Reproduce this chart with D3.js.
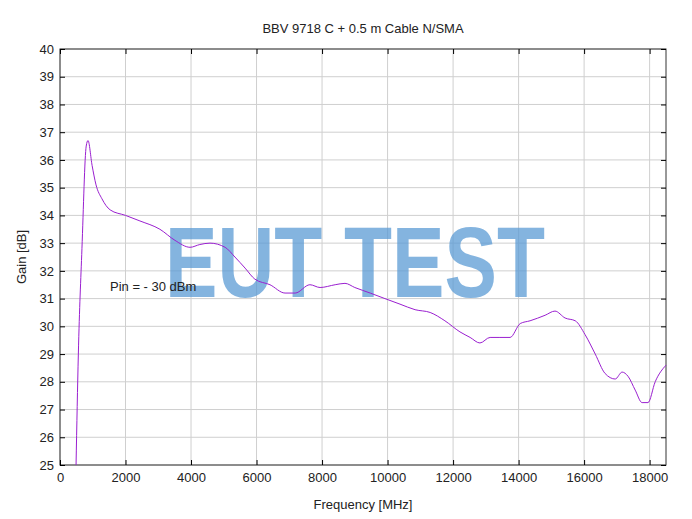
<!DOCTYPE html>
<html><head><meta charset="utf-8">
<script src="https://cdn.jsdelivr.net/npm/d3@7"></script>
<style>body{margin:0;background:#fff}svg{font-family:"Liberation Sans",Arial,sans-serif}</style>
</head><body><svg id="c" width="692" height="519"></svg>
<script>
const freq=[490,560,670,800,855,980,1100,1280,1530,2000,2440,3050,3510,3970,4270,4580,5040,5340,5650,5950,6410,6870,7180,7630,7940,8400,8700,9000,9470,9920,10380,10840,11300,11750,12210,12520,12820,13130,13430,13740,14050,14350,14810,15110,15420,15730,16030,16340,16640,16950,17160,17340,17560,17770,17950,18170,18500];
const gain=[25,29,32.8,36.5,36.7,35.8,35.1,34.6,34.2,34.0,33.8,33.5,33.1,32.85,32.95,33.0,32.85,32.5,32.1,31.7,31.5,31.2,31.2,31.5,31.4,31.5,31.55,31.4,31.2,31.0,30.8,30.6,30.5,30.2,29.8,29.6,29.4,29.6,29.6,29.6,30.1,30.2,30.4,30.55,30.3,30.2,29.7,29.0,28.3,28.1,28.35,28.2,27.7,27.25,27.25,28.0,28.6];
const xTicks=[0,2000,4000,6000,8000,10000,12000,14000,16000,18000];
const yTicks=d3.range(25,41);
const svg=d3.select("#c");
const L=60,R=666,T=49,B=465;
const x=d3.scaleLinear().domain([0,18500]).range([L,R]);
const y=d3.scaleLinear().domain([25,40]).range([B,T]);
const g=svg.append("g");
g.selectAll(".vx").data(xTicks).join("line").attr("x1",d=>x(d)).attr("x2",d=>x(d)).attr("y1",T).attr("y2",B).attr("stroke","#cfcfcf");
g.selectAll(".hy").data(yTicks).join("line").attr("y1",d=>y(d)).attr("y2",d=>y(d)).attr("x1",L).attr("x2",R).attr("stroke","#cfcfcf");
svg.append("rect").attr("x",L).attr("y",T).attr("width",R-L).attr("height",B-T).attr("fill","none").attr("stroke","#333");
const xa=svg.append("g").attr("transform",`translate(0,${B})`).call(d3.axisBottom(x).tickValues(xTicks).tickFormat(d3.format("d")).tickSizeInner(-5).tickSizeOuter(0));
const ya=svg.append("g").attr("transform",`translate(${L},0)`).call(d3.axisLeft(y).tickValues(yTicks).tickSizeInner(-5).tickSizeOuter(0));
svg.append("g").attr("transform",`translate(${R},0)`).call(d3.axisRight(y).tickValues(yTicks).tickFormat("").tickSizeInner(-5).tickSizeOuter(0));
svg.append("g").attr("transform",`translate(0,${T})`).call(d3.axisTop(x).tickValues(xTicks).tickFormat("").tickSizeInner(-5).tickSizeOuter(0));
svg.selectAll(".domain").remove();
svg.selectAll(".tick text").attr("font-size",13).attr("fill","#222");
xa.selectAll("text").attr("dy","1.1em");
ya.selectAll("text").attr("dx","-3");
svg.append("text").attr("x",165).attr("y",297).attr("font-size",100).attr("font-weight","bold")
 .attr("font-family","Liberation Sans Narrow, Liberation Sans, sans-serif").attr("fill","#5b9bd5").attr("opacity",0.75)
 .attr("textLength",380).attr("lengthAdjust","spacingAndGlyphs").text("EUT TEST");
svg.append("path").datum(freq.map((f,i)=>[f,gain[i]])).attr("fill","none").attr("stroke","#9a1fd0").attr("stroke-width",1)
 .attr("d",d3.line().x(d=>x(d[0])).y(d=>y(d[1])).curve(d3.curveMonotoneX));
svg.append("text").attr("x",110).attr("y",291).attr("font-size",13).attr("fill","#222").text("Pin = - 30 dBm");
svg.append("text").attr("x",363).attr("y",33).attr("text-anchor","middle").attr("font-size",13).attr("fill","#222").text("BBV 9718 C + 0.5 m Cable N/SMA");
svg.append("text").attr("x",363).attr("y",509).attr("text-anchor","middle").attr("font-size",13).attr("fill","#222").text("Frequency [MHz]");
svg.append("text").attr("transform","translate(26,257) rotate(-90)").attr("text-anchor","middle").attr("font-size",13).attr("fill","#222").text("Gain [dB]");
</script></body></html>
